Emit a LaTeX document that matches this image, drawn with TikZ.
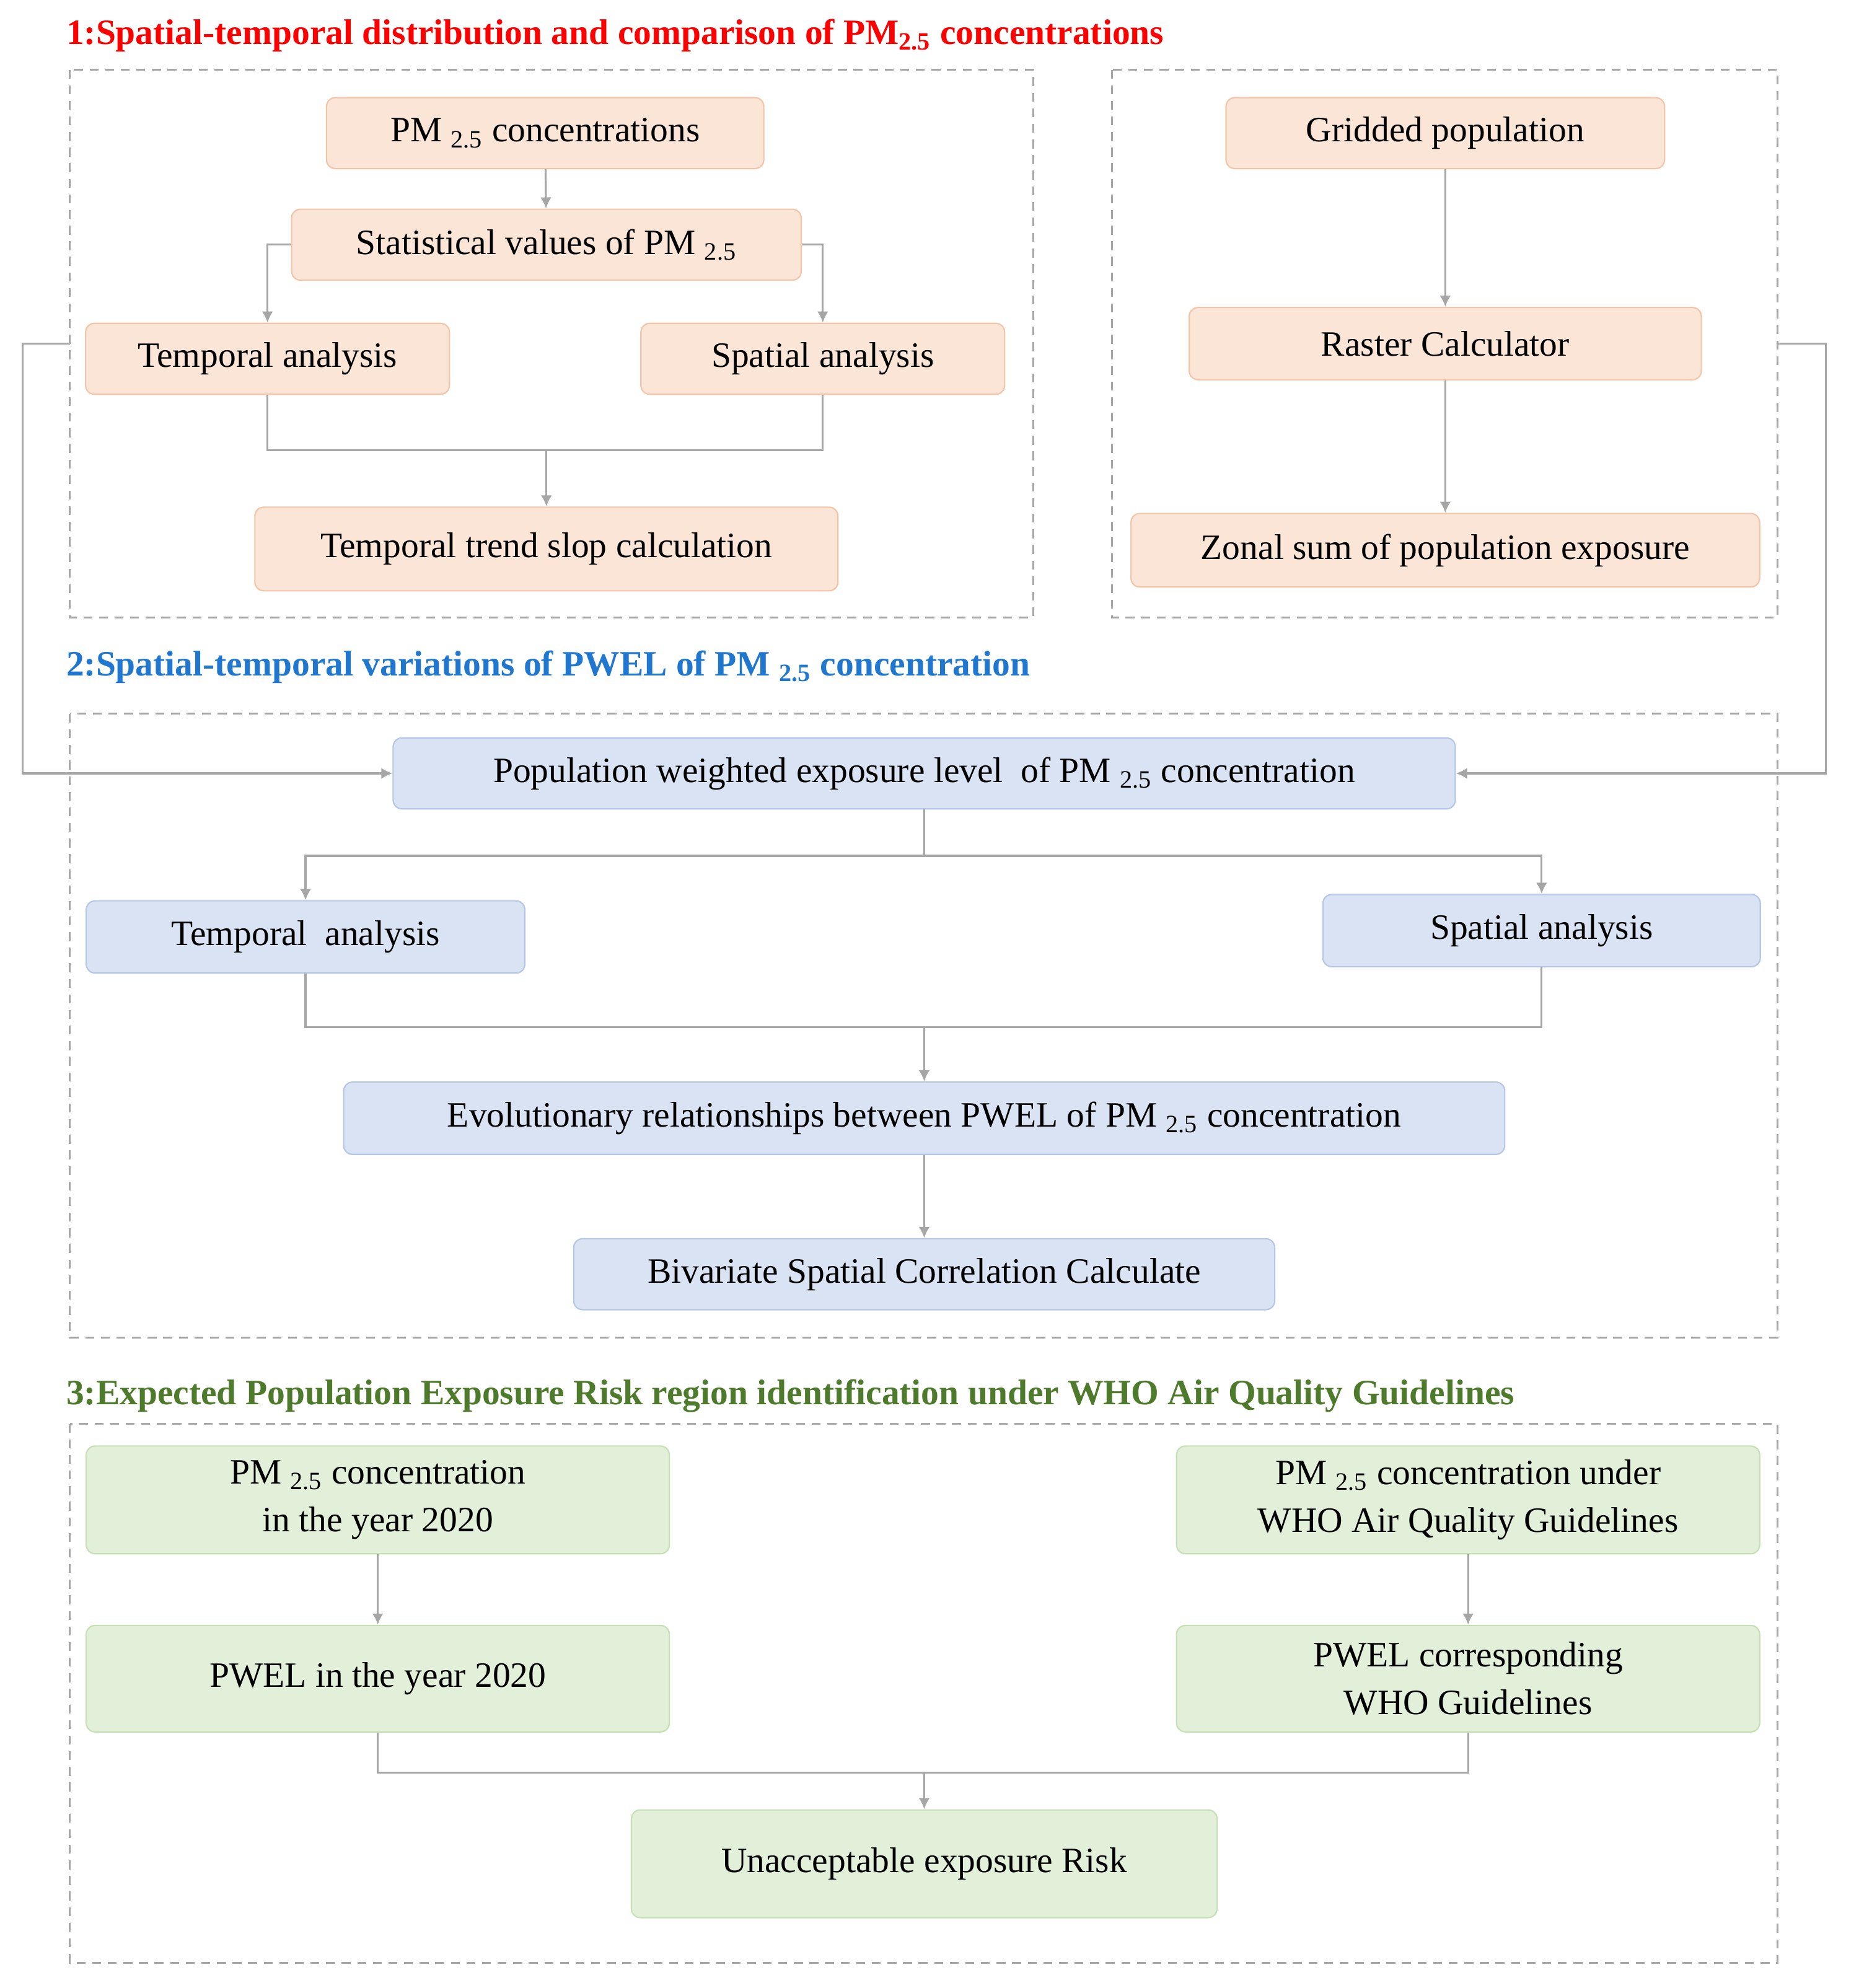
\documentclass[tikz,border=0pt]{standalone}
\usepackage{fontspec}
\setmainfont{Liberation Serif}
\usetikzlibrary{arrows.meta}
\definecolor{orfill}{HTML}{FBE5D6}\definecolor{ordraw}{HTML}{F2C4A8}
\definecolor{blfill}{HTML}{DAE3F3}\definecolor{bldraw}{HTML}{B4C7E7}
\definecolor{grfill}{HTML}{E2F0D9}\definecolor{grdraw}{HTML}{C5E0B4}
\definecolor{lncol}{HTML}{A6A6A6}
\definecolor{tblue}{HTML}{1F77D0}\definecolor{tgreen}{HTML}{4E7A2C}
\begin{document}
\begin{tikzpicture}[x=0.02cm,y=-0.02cm,
  box/.style={draw, rounded corners=4pt, line width=0.6pt, inner sep=0pt, align=center, font=\fontsize{16}{21.5}\selectfont},
  ob/.style={box, fill=orfill, draw=ordraw},
  bb/.style={box, fill=blfill, draw=bldraw},
  gb/.style={box, fill=grfill, draw=grdraw},
  dashbox/.style={draw=gray!70, line width=0.9pt, dash pattern=on 4pt off 3pt},
  ln/.style={draw=lncol, line width=0.9pt},
  ar/.style={ln, -{Latex[length=5pt,width=5pt]}},
  ttl/.style={anchor=west, font=\fontsize{16}{19}\selectfont\bfseries, inner sep=0pt}]
\useasboundingbox (0,0) rectangle (1466,1568);
% titles
\node[ttl, text=red] (t1) at (52,28) {1:Spatial-temporal distribution and comparison of PM\textsubscript{2.5} concentrations};
\node[ttl, text=tblue] (t2) at (52,526) {2:Spatial-temporal variations of PWEL of PM \textsubscript{2.5} concentration};
\node[ttl, text=tgreen] (t3) at (52,1101) {3:Expected Population Exposure Risk region identification under WHO Air Quality Guidelines};
% dashed frames
\draw[dashbox] (55,55) rectangle (815,487);
\draw[dashbox] (877,55) rectangle (1402,487);
\draw[dashbox] (55,563) rectangle (1402,1055);
\draw[dashbox] (55,1123) rectangle (1402,1548);
% section 1
\node[ob, minimum width=6.9cm, minimum height=1.12cm] (pm) at (430,105) {PM \textsubscript{2.5} concentrations};
\node[ob, minimum width=8.04cm, minimum height=1.12cm] (st) at (431,193) {Statistical values of PM \textsubscript{2.5}};
\node[ob, minimum width=5.74cm, minimum height=1.12cm] (ta) at (211,283) {Temporal analysis};
\node[ob, minimum width=5.74cm, minimum height=1.12cm] (sa) at (649,283) {Spatial analysis};
\node[ob, minimum width=9.2cm, minimum height=1.32cm] (tr) at (431,433) {Temporal trend slop calculation};
\node[ob, minimum width=6.92cm, minimum height=1.12cm] (gp) at (1140,105) {Gridded population};
\node[ob, minimum width=8.08cm, minimum height=1.14cm] (rc) at (1140,271) {Raster Calculator};
\node[ob, minimum width=9.92cm, minimum height=1.16cm] (zs) at (1140,434) {Zonal sum of population exposure};
\draw[ar] (pm) -- (st);
\draw[ar] (st.west) -| (ta.north);
\draw[ar] (st.east) -| (sa.north);
\coordinate (j1) at (431,355);
\draw[ln] (ta.south) |- (j1) -| (sa.south);
\draw[ar] (j1) -- (tr.north);
\draw[ar] (gp) -- (rc);
\draw[ar] (rc) -- (zs);
% section 2
\node[bb, minimum width=16.76cm, minimum height=1.12cm] (pw) at (729,610) {Population weighted exposure level \ of PM \textsubscript{2.5} concentration};
\node[bb, minimum width=6.92cm, minimum height=1.14cm] (ta2) at (241,739) {Temporal \ analysis};
\node[bb, minimum width=6.9cm, minimum height=1.14cm] (sa2) at (1216,734) {Spatial analysis};
\node[bb, minimum width=18.32cm, minimum height=1.14cm] (ev) at (729,882) {Evolutionary relationships between PWEL of PM \textsubscript{2.5} concentration};
\node[bb, minimum width=11.06cm, minimum height=1.12cm] (bv) at (729,1005) {Bivariate Spatial Correlation Calculate};
\coordinate (j2) at (729,675);
\draw[ln] (pw.south) -- (j2);
\draw[ar] (j2) -| (ta2.north);
\draw[ar] (j2) -| (sa2.north);
\coordinate (j3) at (729,810);
\draw[ln] (ta2.south) |- (j3) -| (sa2.south);
\draw[ar] (j3) -- (ev.north);
\draw[ar] (ev) -- (bv);
% feedback connectors
\coordinate (l0) at (55,271); \coordinate (l1) at (18,271); \coordinate (l2) at (18,610);
\draw[ar] (l0) -- (l1) -- (l2) -- (pw.west);
\coordinate (r0) at (1402,271); \coordinate (r1) at (1440,271); \coordinate (r2) at (1440,610);
\draw[ar] (r0) -- (r1) -- (r2) -- (pw.east);
% section 3
\node[gb, minimum width=9.2cm, minimum height=1.7cm] (p20) at (298,1183) {PM \textsubscript{2.5} concentration\\in the year 2020};
\node[gb, minimum width=9.2cm, minimum height=1.7cm] (pwho) at (1158,1183) {PM \textsubscript{2.5} concentration under\\WHO Air Quality Guidelines};
\node[gb, minimum width=9.2cm, minimum height=1.68cm] (w20) at (298,1324) {PWEL in the year 2020};
\node[gb, minimum width=9.2cm, minimum height=1.68cm] (wwho) at (1158,1324) {PWEL corresponding\\WHO Guidelines};
\node[gb, minimum width=9.24cm, minimum height=1.7cm] (un) at (729,1470) {Unacceptable exposure Risk};
\draw[ar] (p20) -- (w20);
\draw[ar] (pwho) -- (wwho);
\coordinate (j4) at (729,1398);
\draw[ln] (w20.south) |- (j4) -| (wwho.south);
\draw[ar] (j4) -- (un.north);
\end{tikzpicture}
\end{document}
